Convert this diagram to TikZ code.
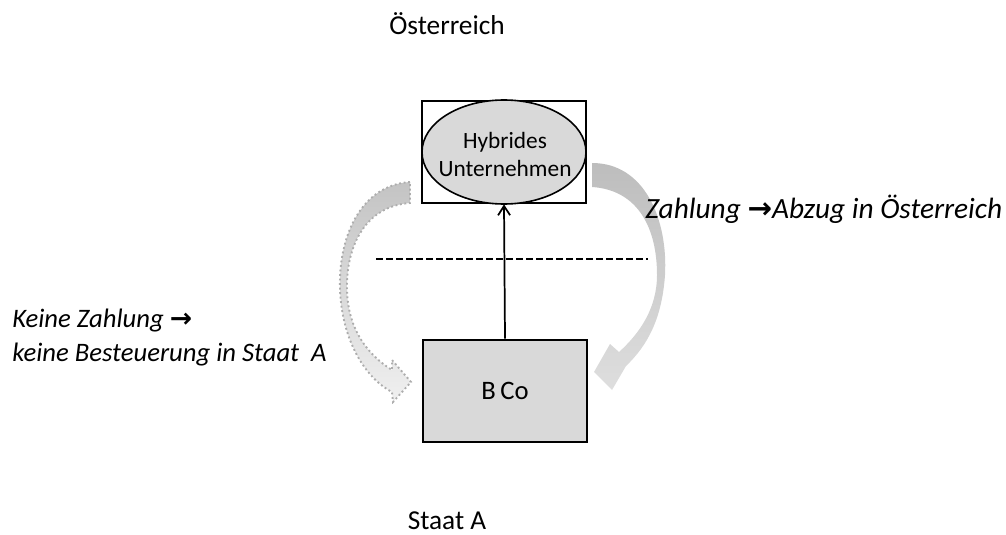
\documentclass[tikz,border=0pt]{standalone}
\usepackage{fontspec}
\setmainfont{Carlito}
\newfontfamily\arrowfont{DejaVu Sans}
\usetikzlibrary{arrows.meta}

\definecolor{boxgray}{HTML}{D9D9D9}
\definecolor{bandgray}{HTML}{BDBDBD}
\definecolor{bandlight}{HTML}{DEDEDE}
\definecolor{dotgray}{HTML}{ADADAD}

\newlength{\unitpx}
\setlength{\unitpx}{0.75pt}
\newcommand{\zarrow}{{\arrowfont\upshape\bfseries →}}

\tikzset{
	entity/.style={draw=black, line width=2pt, minimum width=164\unitpx, minimum height=102\unitpx, inner sep=0pt},
	lbl/.style={font=\fontsize{22}{26}\selectfont\itshape, inner sep=0pt, align=left},
	state/.style={font=\fontsize{20.5}{24}\selectfont, inner sep=0pt}
}

\begin{document}
\begin{tikzpicture}[x=0.75pt, y=-0.75pt]
	\useasboundingbox (0,0) rectangle (1006,535);

	%States
	\node[state] (at) at (447,24) {Österreich};
	\node[state, anchor=base] (sa) at (447,529) {Staat A};

	%Entities
	\node[entity] (hyb) at (504,152) {};
	\fill[boxgray] (hyb.center) ellipse [x radius=82, y radius=52];
	\draw[line width=1.2pt] (hyb.center) ellipse [x radius=82, y radius=52];
	\node[align=center, inner sep=0pt, font=\fontsize{17.5}{21}\selectfont] (hybtxt) at (505,154) {Hybrides\\Unternehmen};
	\node[entity, fill=boxgray, font=\fontsize{20}{24}\selectfont] (bco) at (505,391) {B\,Co};

	\draw[line width=1.3pt, -{Straight Barb[length=7pt, width=9pt, line width=1.3pt]}] (bco.north) -- (hyb.south);

	%Border
	\coordinate (bl) at (376,259);
	\coordinate (br) at (648,259);
	\draw[line width=1.6pt, dash pattern=on 5pt off 2.5pt] (bl) -- (br);

	%Payment arrow (right)
	\path[top color=bandgray, bottom color=bandlight]
		(592,163) .. controls (645,163) and (668,220) .. (665,275)
		.. controls (662,318) and (648,345) .. (626,366)
		-- (612,390) -- (594,372) -- (610,344) -- (619,352)
		.. controls (640,333) and (657,308) .. (657,275)
		.. controls (657,228) and (638,190) .. (592,187) -- cycle;

	%No payment arrow (left)
	\path[top color=bandgray!90, bottom color=white!94!black, draw=dotgray, line width=1.4pt, dotted]
		(410,182) .. controls (362,185) and (338,235) .. (340,290)
		.. controls (342,340) and (365,378) .. (392,392)
		-- (393,402) -- (411,382) -- (392,360) -- (392,370)
		.. controls (368,355) and (348,330) .. (347,290)
		.. controls (346,245) and (366,206) .. (410,203) -- cycle;

	%Labels
	\node[lbl, anchor=west] (pay) at (645,209) {Zahlung \zarrow Abzug in Österreich};
	\node[lbl, anchor=north west, font=\fontsize{20}{25.5}\selectfont\itshape] (nopay) at (12,309) {Keine Zahlung \zarrow\\keine Besteuerung in Staat\ \ A};
\end{tikzpicture}
\end{document}
